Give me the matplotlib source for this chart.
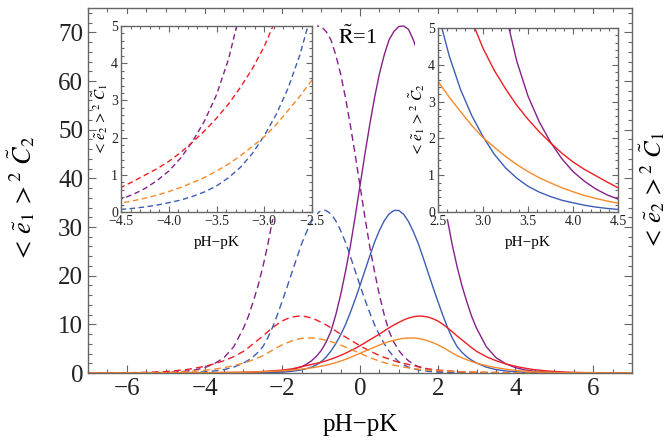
import numpy as np
import matplotlib
matplotlib.use('Agg')
import matplotlib.pyplot as plt
from matplotlib.ticker import MultipleLocator, FuncFormatter
from matplotlib.patches import Rectangle

plt.rcParams['font.family'] = ['Liberation Serif', 'DejaVu Serif']
plt.rcParams['mathtext.fontset'] = 'stix'

# pH-pK grid for the main panel (solid curves; dashed ones are the mirror image)
x_grid = [-7, -6, -5, -4, -3.5, -3, -2.5, -2, -1.75,
          -1.5, -1.375, -1.25, -1.125, -1, -0.875, -0.75, -0.625, -0.5, -0.375, -0.25, -0.125,
          0, 0.125, 0.25, 0.375, 0.5, 0.625, 0.75, 0.875, 1, 1.125, 1.25, 1.375, 1.5, 1.625, 1.75, 1.875,
          2, 2.125, 2.25, 2.375, 2.5, 2.625, 2.75, 2.875, 3,
          3.25, 3.5, 3.75, 4, 4.25, 4.5, 5, 5.5, 6, 7]
purple_vals = [0, 0, 0, 0, 0.01, 0.03, 0.1, 0.35, 0.7,
               1.3, 1.8, 2.5, 3.4, 4.6, 6.3, 8.5, 11.9, 16, 20.8, 26, 32.1,
               38.5, 44.9, 51, 56.6, 61.5, 65.4, 68.5, 70.2, 71.2, 71.3, 70.6, 68.4, 65.5, 61.2, 56, 50,
               43.5, 37.3, 31.5, 26.3, 21.8, 17.9, 14.6, 11.6, 9.2,
               5.4, 3.15, 1.9, 1.1, 0.63, 0.35, 0.11, 0.035, 0.01, 0]
blue_vals = [0, 0, 0, 0, 0.01, 0.02, 0.06, 0.18, 0.35,
             0.65, 0.9, 1.2, 1.65, 2.3, 3.25, 4.5, 6.0, 7.8, 9.9, 12.4, 15.1,
             18, 21.0, 24, 26.9, 29.3, 31.3, 32.7, 33.4, 33.4, 32.6, 31.1, 29.0, 26.6, 23.7, 20.7, 17.7,
             14.8, 12.0, 9.4, 7.2, 5.4, 4.24, 3.33, 2.62, 2.05,
             1.2, 0.7, 0.42, 0.25, 0.135, 0.07, 0.02, 0.005, 0, 0]
red_vals = [0, 0.01, 0.02, 0.06, 0.1, 0.15, 0.3, 0.6, 0.85,
            1.3, 1.52, 1.75, 1.97, 2.2, 2.51, 2.85, 3.21, 3.6, 4.06, 4.55, 5.06,
            5.6, 6.2, 6.8, 7.4, 8.0, 8.65, 9.3, 9.88, 10.4, 10.9, 11.3, 11.55, 11.7, 11.65, 11.5, 11.15,
            10.7, 10.05, 9.3, 8.47, 7.6, 6.8, 6.0, 5.2, 4.45,
            3.35, 2.52, 1.88, 1.36, 0.99, 0.66, 0.3, 0.13, 0.06, 0.01]
orange_vals = [0, 0.01, 0.02, 0.06, 0.1, 0.15, 0.27, 0.45, 0.6,
               0.8, 0.92, 1.05, 1.21, 1.4, 1.61, 1.85, 2.13, 2.45, 2.8, 3.2, 3.62,
               4.05, 4.48, 4.9, 5.33, 5.75, 6.13, 6.45, 6.73, 6.95, 7.12, 7.2, 7.2, 7.1, 6.9, 6.6, 6.23,
               5.8, 5.27, 4.7, 4.12, 3.55, 3.12, 2.73, 2.35, 2.02,
               1.51, 1.1, 0.79, 0.55, 0.37, 0.24, 0.1, 0.04, 0.02, 0]

# finer readings of the tails shown in the insets
x_tail = [2.5, 2.625, 2.75, 2.875, 3.0, 3.125, 3.25, 3.375, 3.5, 3.625, 3.75, 3.875,
          4.0, 4.125, 4.25, 4.375, 4.5]
purple_tail = [21.8, 17.9, 14.6, 11.6, 9.2, 7.0, 5.4, 4.1, 3.15, 2.45, 1.9, 1.45,
               1.1, 0.84, 0.63, 0.47, 0.35]
blue_tail = [5.4, 4.24, 3.33, 2.62, 2.05, 1.57, 1.2, 0.92, 0.7, 0.54, 0.42, 0.32,
             0.25, 0.185, 0.135, 0.098, 0.07]
red_tail = [7.6, 6.8, 6.0, 5.2, 4.45, 3.85, 3.35, 2.9, 2.52, 2.18, 1.88, 1.6,
            1.36, 1.16, 0.99, 0.82, 0.66]
orange_tail = [3.55, 3.12, 2.73, 2.35, 2.02, 1.76, 1.51, 1.29, 1.1, 0.93, 0.79, 0.66,
               0.55, 0.45, 0.37, 0.3, 0.24]

colors = {'purple': '#85208a', 'blue': '#3d5db5', 'red': '#ee1d24', 'orange': '#f7892a'}
frame_col = '#666666'


def style(ax, lab_size, major_len, minor_len):
  for s in ax.spines.values():
    s.set_color(frame_col)
    s.set_linewidth(1.0)
  ax.tick_params(which='both', direction='in', top=True, right=True, color=frame_col,
                 labelcolor='#222222', labelsize=lab_size, width=0.8)
  ax.tick_params(which='major', length=major_len)
  ax.tick_params(which='minor', length=minor_len)


minus = lambda fmt: FuncFormatter(lambda v, p: (fmt % v).replace('-', '\u2212'))

fig = plt.figure(figsize=(6.69, 4.43), dpi=100)
ax = fig.add_axes([88 / 669, 70 / 443, 544 / 669, 365 / 443])

series = [(purple_vals, 'purple'), (blue_vals, 'blue'), (red_vals, 'red'), (orange_vals, 'orange')]
xg = np.array(x_grid)
for vals, c in series:
  ax.plot(xg, vals, color=colors[c], lw=1.0)
  ax.plot(-xg, vals, color=colors[c], lw=1.0, dashes=(5, 3))

ax.set_xlim(-7, 7)
ax.set_ylim(0, 75)
ax.xaxis.set_major_locator(MultipleLocator(2))
ax.xaxis.set_minor_locator(MultipleLocator(0.5))
ax.yaxis.set_major_locator(MultipleLocator(10))
ax.yaxis.set_minor_locator(MultipleLocator(2))
ax.xaxis.set_major_formatter(minus('%d'))
style(ax, 18, 6, 3)
ax.set_xlabel('pH\u2212pK', fontsize=18, labelpad=10)
fig.text(21 / 669, 1 - 199 / 443, r'$<\,\tilde{e}_1\,>^2\ \tilde{C}_2$', fontsize=19,
         rotation=90, ha='center', va='center')
fig.text(652 / 669, 1 - 191 / 443, r'$<\,\tilde{e}_2\,>^2\ \tilde{C}_1$', fontsize=18,
         rotation=90, ha='center', va='center')
fig.text(358 / 669, 1 - 37 / 443, r'$\tilde{\mathrm{R}}$=1', fontsize=16,
         ha='center', va='center')

# white boxes behind the insets (they hide the main curves)
fig.add_artist(Rectangle((98 / 669, 1 - 219 / 443), 219 / 669, 205 / 443,
                         facecolor='white', edgecolor='none', zorder=2))
fig.add_artist(Rectangle((415 / 669, 1 - 219 / 443), 207 / 669, 205 / 443,
                         facecolor='white', edgecolor='none', zorder=2))

xt = np.array(x_tail)
tails = [(purple_tail, 'purple'), (blue_tail, 'blue'), (red_tail, 'red'), (orange_tail, 'orange')]

axl = fig.add_axes([121 / 669, 1 - 212 / 443, 191 / 669, 186 / 443], zorder=3)
axr = fig.add_axes([438 / 669, 1 - 212 / 443, 180 / 669, 184 / 443], zorder=3)
for vals, c in tails:
  axl.plot(-xt, vals, color=colors[c], lw=1.0, dashes=(4, 2.5))
  axr.plot(xt, vals, color=colors[c], lw=1.0)
axl.set_xlim(-4.5, -2.5)
axr.set_xlim(2.5, 4.5)
for a in (axl, axr):
  a.set_ylim(0, 5)
  a.xaxis.set_major_locator(MultipleLocator(0.5))
  a.xaxis.set_minor_locator(MultipleLocator(0.1))
  a.yaxis.set_major_locator(MultipleLocator(1))
  a.yaxis.set_minor_locator(MultipleLocator(0.2))
  a.xaxis.set_major_formatter(minus('%.1f'))
  style(a, 10, 4, 2)
  a.tick_params(axis='x', pad=2)
  a.tick_params(axis='y', pad=2)
  a.set_xlabel('pH\u2212pK', fontsize=11, labelpad=6)
axl.set_ylabel(r'$<\,\tilde{e}_2\,>^2\ \tilde{C}_1$', fontsize=11, labelpad=1)
axr.set_ylabel(r'$<\,\tilde{e}_1\,>^2\ \tilde{C}_2$', fontsize=11, labelpad=1)

fig.savefig('out.png', dpi=100)
